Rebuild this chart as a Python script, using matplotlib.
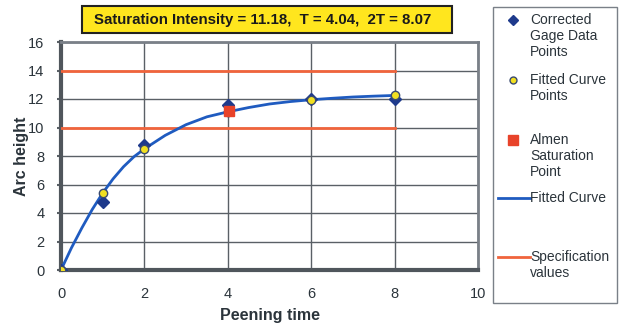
import matplotlib
matplotlib.use("Agg")
import matplotlib.pyplot as plt
from matplotlib.lines import Line2D
from matplotlib.patches import Rectangle

plt.rcParams['font.family'] = ['Liberation Sans', 'DejaVu Sans']

# data
gage_t = [0, 1, 2, 4, 6, 8]
gage_h = [0, 4.8, 8.8, 11.6, 12.0, 12.0]

fit_t = [0, 1, 2, 4, 6, 8]
fit_h = [0, 5.4, 8.5, 11.1, 11.95, 12.25]

curve_t = [0, 0.25, 0.5, 0.75, 1, 1.25, 1.5, 1.75, 2, 2.5, 3, 3.5, 4, 4.5, 5, 5.5, 6, 6.5, 7, 7.5, 8]
curve_h = [0, 1.55, 2.95, 4.25, 5.4, 6.4, 7.25, 7.95, 8.5, 9.45, 10.2, 10.75, 11.1, 11.4, 11.65, 11.82, 11.95, 12.05, 12.14, 12.2, 12.25]

sat_t = [4.04]
sat_h = [11.18]

spec_vals = [10, 14]
spec_range = [0, 8]

title_txt = "Saturation Intensity = 11.18,  T = 4.04,  2T = 8.07"

W, H = 619, 325
fig = plt.figure(figsize=(W / 100, H / 100), dpi=100)
ax = fig.add_axes([61 / W, 1 - 270 / H, (478 - 61) / W, (270 - 42) / H])

grid_col = '#5a6066'
txt_col = '#2b343b'

for v in spec_vals:
    ax.plot(spec_range, [v, v], color='#f0643c', lw=2, zorder=3)
ax.plot(curve_t, curve_h, color='#1f5bc0', lw=2, zorder=4)
ax.plot(gage_t, gage_h, ls='none', marker='D', ms=6.5, color='#1e3a8c', mec='#1e3a8c', zorder=5)
ax.plot(fit_t, fit_h, ls='none', marker='o', ms=6, mfc='#f2e021', mec='#3a4a70', mew=1, zorder=6)
ax.plot(sat_t, sat_h, ls='none', marker='s', ms=6.5, color='#e8432a', mec='#e8432a', zorder=7)

ax.set_xlim(0, 10)
ax.set_ylim(0, 16)
ax.set_xticks([0, 2, 4, 6, 8, 10])
ax.set_yticks(range(0, 17, 2))
ax.grid(True, color=grid_col, lw=1)
ax.set_axisbelow(True)
ax.tick_params(axis='y', length=3, width=1.5, color=grid_col, labelsize=10.5, labelcolor=txt_col, pad=9)
ax.tick_params(axis='x', length=0, labelsize=10.5, labelcolor=txt_col, pad=12)
for s in ['left', 'bottom']:
    ax.spines[s].set_linewidth(3)
    ax.spines[s].set_color('#50565c')
for s in ['top', 'right']:
    ax.spines[s].set_linewidth(2)
    ax.spines[s].set_color('#7a8088')

ax.set_xlabel("Peening time", fontsize=11.5, fontweight='bold', color=txt_col, labelpad=5)
ax.set_ylabel("Arc height", fontsize=11.5, fontweight='bold', color=txt_col, labelpad=-1)

# title box
fig.patches.append(Rectangle((82 / W, 1 - 33 / H), 370 / W, 27 / H, transform=fig.transFigure,
                             facecolor='#ffe61e', edgecolor='#222222', lw=1.5))
fig.text(263 / W, 1 - 20 / H, title_txt, ha='center', va='center', fontsize=10.8,
         fontweight='bold', color='#1a1a1a')

# legend drawn by hand
fig.patches.append(Rectangle((493 / W, 1 - 303 / H), 124 / W, 296 / H, transform=fig.transFigure,
                             facecolor='white', edgecolor='#7a8088', lw=1))
leg_entries = [
    ('marker', dict(marker='D', ms=5, color='#1e3a8c'), "Corrected\nGage Data\nPoints", 20),
    ('marker', dict(marker='o', ms=5, mfc='#f2e021', mec='#3a4a70'), "Fitted Curve\nPoints", 80),
    ('marker', dict(marker='s', ms=7, color='#e8432a'), "Almen\nSaturation\nPoint", 140),
    ('line', dict(color='#1f5bc0', lw=2), "Fitted Curve", 198),
    ('line', dict(color='#f0643c', lw=2), "Specification\nvalues", 257),
]
for kind, style, label, ypix in leg_entries:
    yf = 1 - ypix / H
    if kind == 'marker':
        fig.add_artist(Line2D([513 / W], [yf], ls='none', transform=fig.transFigure, **style))
    else:
        fig.add_artist(Line2D([498 / W, 530 / W], [yf, yf], transform=fig.transFigure, **style))
    fig.text(530 / W, yf + 7 / H, label, ha='left', va='top', fontsize=10,
             color=txt_col, linespacing=1.18)

fig.savefig("out.png", dpi=100, facecolor='white')
